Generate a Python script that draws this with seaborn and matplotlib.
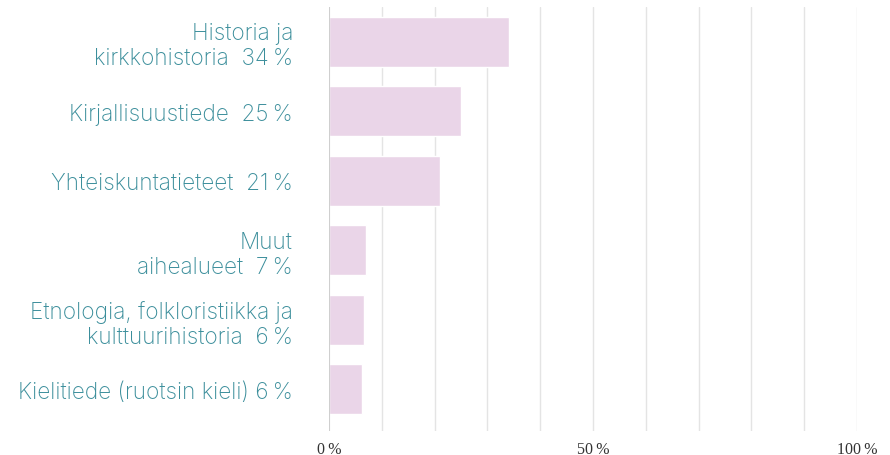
#!/usr/bin/env python3
"""Horizontal bar chart: share of research fields (Finnish)."""

import matplotlib.pyplot as plt
import pandas as pd
import seaborn as sns

CATEGORIES = [
    "Historia ja\nkirkkohistoria",
    "Kirjallisuustiede",
    "Yhteiskuntatieteet",
    "Muut\naihealueet",
    "Etnologia, folkloristiikka ja\nkulttuurihistoria",
    "Kielitiede (ruotsin kieli)",
]
VALUES = [34, 25, 21, 7, 6.6, 6.2]
SHOWN = [34, 25, 21, 7, 6, 6]
GAPS = ["  ", "  ", "  ", "  ", "  ", " "]
XTICKS = [0, 50, 100]

BAR_COLOR = "#ead5e8"
LABEL_COLOR = "#3b8e9b"


def main() -> None:
    sns.set_theme(style="white")
    plt.rcParams["font.family"] = ["Inter", "DejaVu Sans"]

    labels = [f"{c}{g}{v}\u2009%" for c, g, v in zip(CATEGORIES, GAPS, SHOWN)]
    df = pd.DataFrame({"label": labels, "value": VALUES})

    fig = plt.figure(figsize=(8.9, 4.56), dpi=100)
    ax = fig.add_axes([0.3697, 0.0526, 0.5933, 0.9299])

    sns.barplot(data=df, x="value", y="label", color=BAR_COLOR,
                saturation=1, width=0.72, ax=ax)

    ax.set_xlim(0, 100)
    ax.set_ylim(5.6, -0.5)
    for x in range(10, 101, 10):
        ax.axvline(x, color="#e4e4e4", lw=1, zorder=0)
    ax.axvline(0, color="#cfcfcf", lw=1.5, zorder=3)

    for s in ax.spines.values():
        s.set_visible(False)

    ax.set_xticks(XTICKS)
    ax.set_xticklabels([f"{t}\u2009%" for t in XTICKS],
                       family=["Liberation Serif", "DejaVu Serif"],
                       fontsize=11.5, color="#333333")
    ax.tick_params(axis="x", length=0, pad=7)
    ax.tick_params(axis="y", length=0, pad=26)
    for t in ax.get_yticklabels():
        t.set_color(LABEL_COLOR)
        t.set_fontsize(16.3)
        t.set_fontweight("light")
        t.set_linespacing(1.15)
        t.set_horizontalalignment("right")
    ax.set_xlabel("")
    ax.set_ylabel("")

    fig.savefig("out.png", dpi=100)
    plt.close(fig)


if __name__ == "__main__":
    main()
